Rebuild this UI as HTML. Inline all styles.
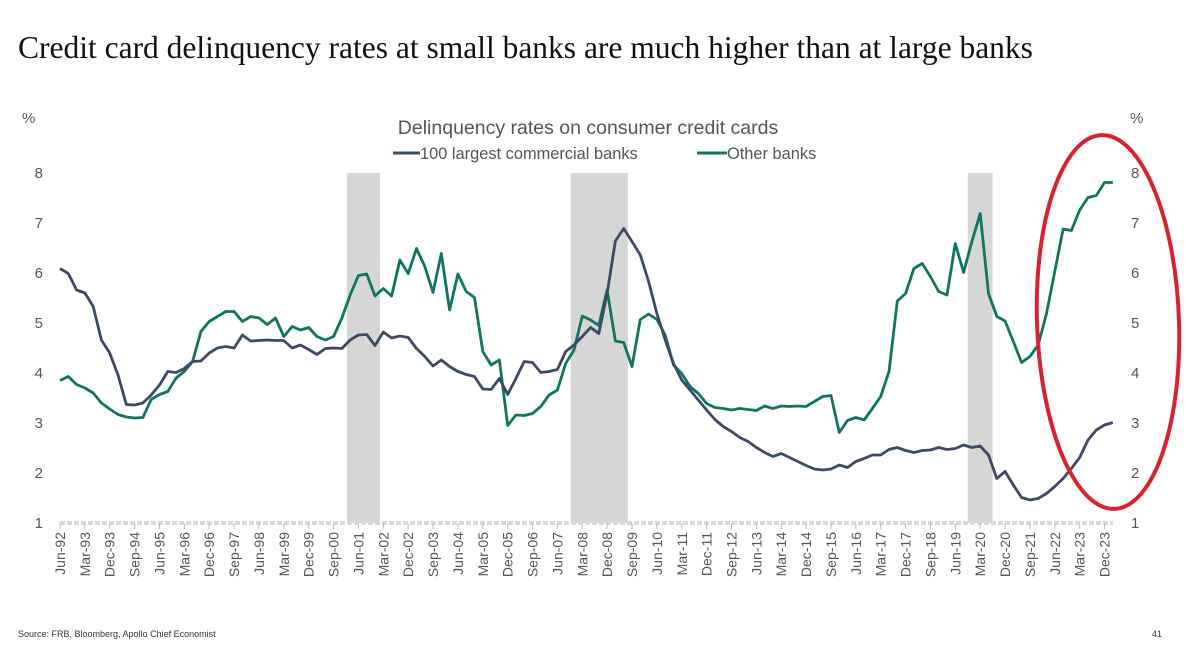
<!DOCTYPE html>
<html><head><meta charset="utf-8"><style>
body{margin:0;background:#fff;}
svg{display:block;font-family:"Liberation Sans",sans-serif;}
</style></head><body>
<svg id="chart" width="1186" height="666">
<text x="18" y="58" font-family="Liberation Serif,serif" font-size="31.5" fill="#111">Credit card delinquency rates at small banks are much higher than at large banks</text>
<text x="588" y="134" text-anchor="middle" font-size="19.5" fill="#555">Delinquency rates on consumer credit cards</text>
<g>
<line x1="393" y1="153" x2="420" y2="153" stroke="#3c4a66" stroke-width="3"/>
<text x="420" y="159" font-size="16.4" fill="#555">100 largest commercial banks</text>
<line x1="697" y1="153" x2="727" y2="153" stroke="#0f7560" stroke-width="3"/>
<text x="727" y="159" font-size="16.4" fill="#555">Other banks</text>
</g>
<text x="22" y="123" font-size="15" fill="#555">%</text>
<text x="1130" y="123" font-size="15" fill="#555">%</text>
<g id="shade"></g><g id="axes"></g><g id="lines"></g>
<ellipse cx="1108" cy="322" rx="71" ry="187" fill="none" stroke="#d7232e" stroke-width="4" transform="rotate(-2 1108 322)"/>
<text x="18" y="637" font-size="9" fill="#333">Source: FRB, Bloomberg, Apollo Chief Economist</text>
<text x="1152" y="637" font-size="9" fill="#333">41</text>
</svg>
<script>
const largeBanks=[6.09,5.99,5.66,5.6,5.33,4.66,4.4,3.96,3.37,3.36,3.4,3.56,3.76,4.03,4.01,4.09,4.23,4.24,4.4,4.5,4.53,4.5,4.76,4.64,4.65,4.66,4.65,4.65,4.5,4.56,4.47,4.37,4.49,4.5,4.49,4.66,4.76,4.77,4.55,4.82,4.7,4.74,4.71,4.49,4.33,4.14,4.26,4.13,4.03,3.97,3.93,3.68,3.67,3.89,3.57,3.89,4.23,4.21,4.01,4.03,4.07,4.43,4.56,4.73,4.91,4.79,5.59,6.64,6.89,6.63,6.36,5.83,5.19,4.66,4.19,3.86,3.66,3.46,3.26,3.07,2.93,2.83,2.71,2.63,2.51,2.41,2.33,2.39,2.31,2.23,2.15,2.08,2.06,2.08,2.16,2.11,2.23,2.29,2.36,2.36,2.47,2.51,2.45,2.41,2.45,2.46,2.51,2.47,2.49,2.56,2.51,2.54,2.36,1.89,2.03,1.76,1.51,1.46,1.49,1.59,1.73,1.89,2.09,2.31,2.66,2.86,2.96,3.01];
const otherBanks=[3.85,3.93,3.77,3.7,3.6,3.4,3.28,3.17,3.12,3.1,3.11,3.47,3.57,3.63,3.9,4.03,4.23,4.83,5.03,5.13,5.23,5.23,5.03,5.13,5.1,4.97,5.1,4.73,4.93,4.86,4.91,4.73,4.66,4.73,5.1,5.56,5.95,5.98,5.54,5.69,5.54,6.26,5.99,6.49,6.13,5.61,6.39,5.26,5.98,5.63,5.51,4.43,4.16,4.26,2.95,3.16,3.15,3.19,3.33,3.56,3.66,4.19,4.46,5.14,5.06,4.95,5.66,4.64,4.61,4.13,5.07,5.18,5.07,4.76,4.16,3.99,3.73,3.59,3.39,3.31,3.29,3.26,3.29,3.27,3.25,3.34,3.29,3.34,3.33,3.34,3.33,3.43,3.53,3.55,2.81,3.05,3.11,3.06,3.29,3.53,4.03,5.44,5.59,6.09,6.19,5.93,5.63,5.56,6.59,6.01,6.63,7.19,5.59,5.13,5.04,4.63,4.21,4.33,4.56,5.19,6.03,6.88,6.85,7.26,7.51,7.55,7.81,7.81];
const recessionStart=[34.6,61.6,109.5];
const recessionEnd=[38.6,68.5,112.5];
const yTicks=[1,2,3,4,5,6,7,8];
const months=["Mar","Jun","Sep","Dec"];
const xLabels=[];
for(let i=0;i<=126;i+=3){const q=1+i;const yr=1992+Math.floor(q/4);xLabels.push({i:i,t:months[q%4]+"-"+String(yr%100).padStart(2,"0")});}
const NS="http://www.w3.org/2000/svg";
const X0=60,DX=8.29,Y1=523,PY=50;
const xs=i=>X0+DX*i, ys=v=>Y1-(v-1)*PY;
function mk(tag,attrs,parent,text){const e=document.createElementNS(NS,tag);for(const k in attrs)e.setAttribute(k,attrs[k]);if(text!==undefined)e.textContent=text;document.getElementById(parent).appendChild(e);return e;}
recessionStart.forEach((s,k)=>{const r=mk("rect",{x:xs(s),y:ys(8),width:xs(recessionEnd[k])-xs(s),height:ys(1)-ys(8),fill:"#d6d6d6"},"shade");

});
yTicks.forEach(v=>{const a=mk("text",{x:43,y:ys(v)+5,"text-anchor":"end","font-size":15,fill:"#555"},"axes",v);


const b=mk("text",{x:1131,y:ys(v)+5,"font-size":15,fill:"#555"},"axes",v);

});
const ax=mk("line",{x1:xs(0),y1:Y1,x2:xs(127),y2:Y1,stroke:"#d9d9d9","stroke-width":4,"stroke-dasharray":"5 2"},"axes");


xLabels.forEach(l=>{const x=xs(l.i);mk("line",{x1:x,y1:Y1,x2:x,y2:Y1+6,stroke:"#bbb","stroke-width":1},"axes");
const t=mk("text",{x:0,y:0,"text-anchor":"end","font-size":14,fill:"#555",transform:`translate(${x+5},${Y1+9}) rotate(-90)`},"axes",l.t);

});
function line(data,color,name){const d=data.map((v,i)=>(i?"L":"M")+xs(i).toFixed(1)+","+ys(v).toFixed(1)).join("");
const p=mk("path",{d:d,fill:"none",stroke:color,"stroke-width":2.8,"stroke-linejoin":"round"},"lines");

}
line(otherBanks,"#0f7560","other-banks-line");
line(largeBanks,"#3c4a66","large-banks-line");
</script>
</body></html>
